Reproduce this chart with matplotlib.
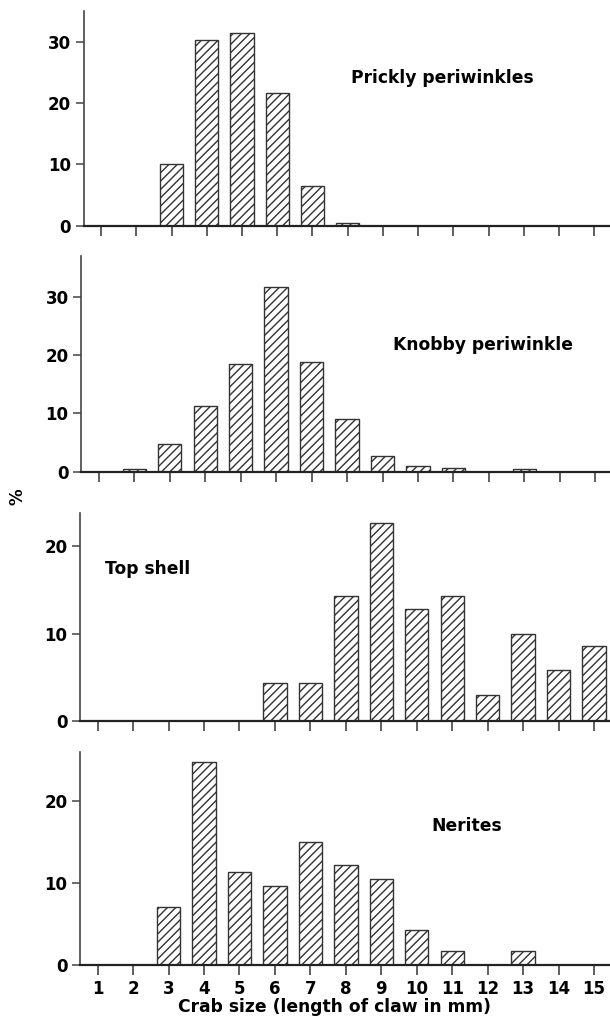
import numpy as np
import matplotlib
matplotlib.use("Agg")
import matplotlib.pyplot as plt

plt.rcParams['font.family'] = ['DejaVu Sans']
plt.rcParams['font.weight'] = 'bold'
plt.rcParams['hatch.linewidth'] = 1.0

# crab claw sizes (mm)
sizes = list(range(1, 16))

# percent of crabs per size class, one list per prey type
prickly = [0, 0, 10.0, 30.2, 31.4, 21.7, 6.5, 0.5, 0, 0, 0, 0, 0, 0, 0]
knobby = [0, 0.4, 4.7, 11.2, 18.4, 31.6, 18.8, 9.0, 2.7, 0.9, 0.6, 0, 0.4, 0, 0]
topshell = [0, 0, 0, 0, 0, 4.3, 4.3, 14.3, 22.7, 12.85, 14.3, 3.0, 9.96, 5.78, 8.63]
nerites = [0, 0, 7.0, 24.7, 11.35, 9.63, 14.98, 12.2, 10.45, 4.24, 1.67, 0, 1.67, 0, 0]

names = ["Prickly periwinkles", "Knobby periwinkle", "Top shell", "Nerites"]
series = [prickly, knobby, topshell, nerites]
ymax = [35, 37, 23.8, 26]
yticks = [[0, 10, 20, 30], [0, 10, 20, 30], [0, 10, 20], [0, 10, 20]]

# axes boxes in figure fraction [left, bottom, width, height]
boxes = [[0.137, 0.7789, 0.866, 0.2103],
         [0.133, 0.5380, 0.872, 0.2116],
         [0.131, 0.2941, 0.872, 0.2031],
         [0.131, 0.0551, 0.872, 0.2086]]
# label positions (axes fraction) and alignment
label_pos = [(0.68, 0.69, 'center'), (0.756, 0.585, 'center'),
             (0.048, 0.73, 'left'), (0.728, 0.65, 'center')]

fig = plt.figure(figsize=(6.10, 10.21), dpi=100)

for i in range(4):
    ax = fig.add_axes(boxes[i])
    ax.bar(sizes, series[i], width=0.66, color='white', edgecolor='#333333',
           linewidth=1.0, hatch='////', zorder=2)
    ax.set_xlim(0.5, 15.5)
    ax.set_ylim(0, ymax[i])
    ax.set_xticks(sizes)
    ax.set_yticks(yticks[i])
    ax.spines['top'].set_visible(False)
    ax.spines['right'].set_visible(False)
    ax.spines['left'].set_color('#444444')
    ax.spines['left'].set_linewidth(1.2)
    ax.spines['bottom'].set_color('#222222')
    ax.spines['bottom'].set_linewidth(1.6)
    ax.tick_params(axis='x', direction='out', length=7, width=1.1, color='#333333',
                   labelsize=12, pad=4)
    ax.tick_params(axis='y', direction='out', length=6, width=1.1, color='#444444',
                   labelsize=12, pad=3)
    if i < 3:
        ax.set_xticklabels([])
    for lab in ax.get_xticklabels() + ax.get_yticklabels():
        lab.set_fontweight('bold')
    lx, ly, ha = label_pos[i]
    ax.text(lx, ly, names[i], transform=ax.transAxes, ha=ha, va='center',
            fontsize=12.3, fontweight='bold')
    if i == 3:
        ax.set_xlabel("Crab size (length of claw in mm)", fontsize=12.3,
                      fontweight='bold', labelpad=0)
        ax.xaxis.label.set_x(0.479)

fig.text(0.028, 1 - 497 / 1021, '%', rotation=90, ha='center', va='center',
         fontsize=12, fontweight='bold')

fig.savefig("out.png", dpi=100)
